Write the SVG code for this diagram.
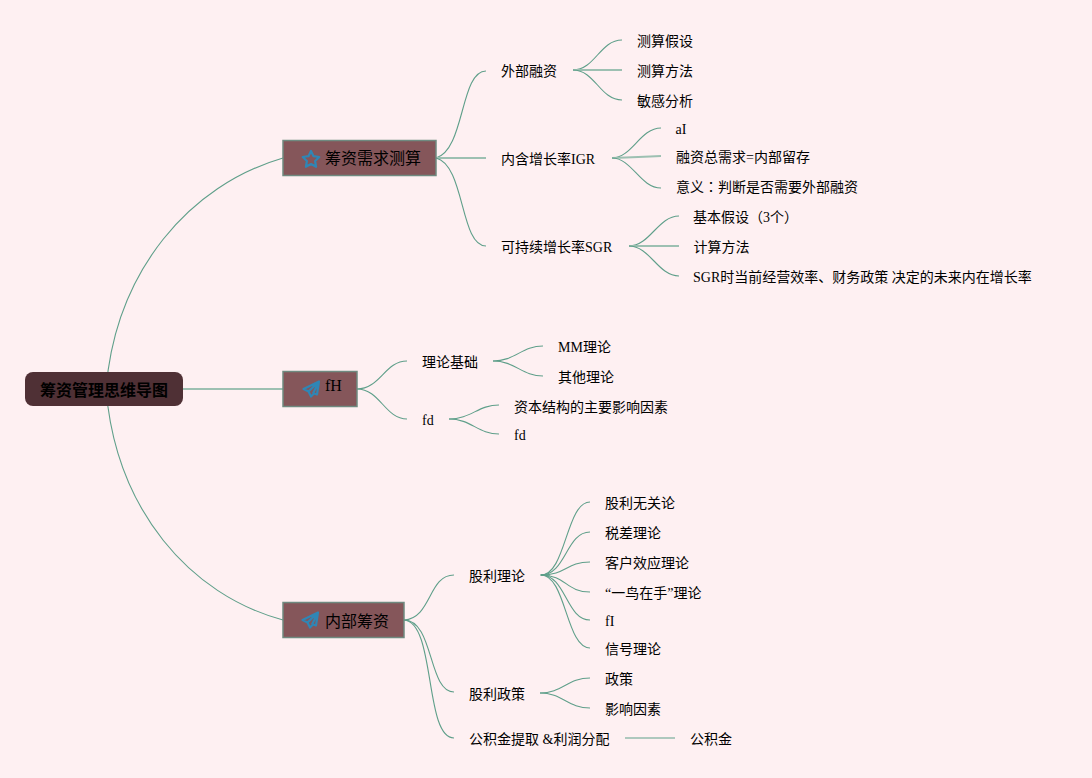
<svg xmlns="http://www.w3.org/2000/svg" width="1092" height="778" viewBox="0 0 1092 778">
<style>
text{font-family:"Liberation Serif","Noto Sans CJK SC",serif;font-size:14px;fill:#000}
.tc{font-family:"Noto Sans CJK TC",sans-serif}
.t{font-size:16px}
.r{font-size:16px;font-weight:bold}
.c path{fill:none;stroke:#5f9f8a;stroke-width:1.1}
.c .h{stroke-width:1.8;stroke:#9dc0b2}
.b{fill:#85565a;stroke:#6f8a80;stroke-width:1.5}
.i{fill:none;stroke:#2f86b5;stroke-width:2.200;stroke-linejoin:round}
</style>
<rect width="1092" height="778" fill="#fef0f2"/>
<g class="c" id="connectors">
<path d="M106 389C116 270 190 185 283 158"/>
<path class="h" d="M183 389H283"/>
<path d="M106 389C116 510 190 595 283 620"/>
<path d="M436 158C465 150 460 71 486 71"/>
<path class="h" d="M436 158H486"/>
<path d="M436 158C465 165 460 246 486 246"/>
<path d="M573 70C595 70 600 40 622 40"/>
<path class="h" d="M573 70H622"/>
<path d="M573 70C595 70 600 100 622 100"/>
<path d="M612 158C632 158 640 128 661 128"/>
<path class="h" d="M612 158Q640 157 661 156"/>
<path d="M612 158C632 158 640 188 661 188"/>
<path d="M629 246C650 246 658 216 679 216"/>
<path class="h" d="M629 246H679"/>
<path d="M629 246C650 246 658 276 679 276"/>
<path d="M357 389C380 389 385 361 407 361"/>
<path d="M357 389C380 389 385 419 407 419"/>
<path d="M493 361C515 361 522 346 543 346"/>
<path d="M493 361C515 361 522 376 543 376"/>
<path d="M449 419C471 419 478 405 499 405"/>
<path d="M449 419C471 419 478 434 499 434"/>
<path d="M404 620C432 618 428 575 454 575"/>
<path d="M404 620C434 620 428 692 454 692"/>
<path d="M404 620C436 622 424 738 454 738"/>
<path class="h" d="M540 575H550"/>
<path d="M541 575C566 575 566 502 590 502"/>
<path d="M541 575C566 575 566 532 590 532"/>
<path d="M541 575C566 575 566 562 590 562"/>
<path d="M541 575C566 575 566 592 590 592"/>
<path d="M541 575C566 575 566 620 590 620"/>
<path d="M541 575C566 575 566 648 590 648"/>
<path d="M540 693C562 693 568 678 590 678"/>
<path d="M540 693C562 693 568 708 590 708"/>
<path d="M625 738H675"/>
</g>
<g id="root"><rect x="25" y="372" width="158" height="34" rx="8" fill="#4f3035"/><text class="r" x="40" y="396">筹资管理思维导图</text></g>
<g id="n1"><rect class="b" x="283" y="140.500" width="153" height="35"/>
<path class="i" d="M311 151l2.500 5.200 5.800 .8-4.200 4 1 5.800-5.100-2.800-5.100 2.800 1-5.800-4.200-4 5.800-.8z"/><text class="t" x="325" y="164">筹资需求测算</text></g>
<g id="n2"><rect class="b" x="283" y="371.500" width="74" height="35"/>
<path class="i" d="M319 381.500l-15.500 7.500 5 2.500 2.500 5 3-3 3 1zM308.500 391.500l10.500-10-6 12"/><text class="t" x="325" y="391">fH</text></g>
<g id="n3"><rect class="b" x="283" y="602.500" width="121" height="35"/>
<path class="i" d="M318 612.500l-15.500 7.500 5 2.500 2.500 5 3-3 3 1zM307.500 622.500l10.500-10-6 12"/><text class="t" x="325" y="627">内部筹资</text></g>
<g id="a1"><text x="501" y="76">外部融资</text></g>
<g id="a2"><text x="501" y="164">内含增长率IGR</text></g>
<g id="a3"><text x="501" y="252">可持续增长率SGR</text></g>
<g id="a11"><text x="637" y="46">测算假设</text></g>
<g id="a12"><text x="637" y="76">测算方法</text></g>
<g id="a13"><text x="637" y="106">敏感分析</text></g>
<g id="a21"><text x="675.500" y="134">aI</text></g>
<g id="a22"><text x="676" y="162">融资总需求=内部留存</text></g>
<g id="a23"><text x="676" y="192">意义<tspan class="tc">：</tspan>判断是否需要外部融资</text></g>
<g id="a31"><text x="693" y="222">基本假设（3个）</text></g>
<g id="a32"><text x="693.500" y="252">计算方法</text></g>
<g id="a33"><text x="693" y="282">SGR时当前经营效率、财务政策 决定的未来内在增长率</text></g>
<g id="b1"><text x="422" y="367">理论基础</text></g>
<g id="b2"><text x="422" y="425">fd</text></g>
<g id="b11"><text x="558" y="352">MM理论</text></g>
<g id="b12"><text x="558" y="382">其他理论</text></g>
<g id="b21"><text x="514" y="412">资本结构的主要影响因素</text></g>
<g id="b22"><text x="514" y="440">fd</text></g>
<g id="c1"><text x="469" y="581">股利理论</text></g>
<g id="c2"><text x="469" y="699">股利政策</text></g>
<g id="c3"><text x="469" y="744">公积金提取 &amp;利润分配</text></g>
<g id="c11"><text x="605" y="508">股利无关论</text></g>
<g id="c12"><text x="605" y="538">税差理论</text></g>
<g id="c13"><text x="605" y="568">客户效应理论</text></g>
<g id="c14"><text x="605" y="598">“一鸟在手”理论</text></g>
<g id="c15"><text x="605" y="626">fI</text></g>
<g id="c16"><text x="605" y="654">信号理论</text></g>
<g id="c21"><text x="605" y="684">政策</text></g>
<g id="c22"><text x="605" y="714">影响因素</text></g>
<g id="c31"><text x="690" y="744">公积金</text></g>
</svg>
